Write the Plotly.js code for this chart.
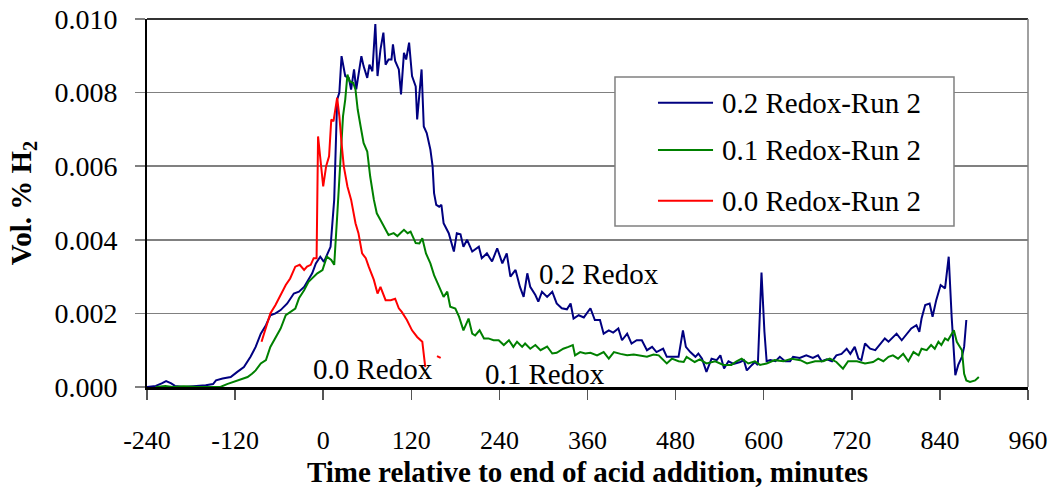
<!DOCTYPE html>
<html>
<head>
<meta charset="utf-8">
<script src="https://cdn.plot.ly/plotly-3.0.1.min.js"></script>
<style>
  html, body { margin: 0; padding: 0; background: #ffffff; }
  #chart { width: 1054px; height: 488px; }
</style>
</head>
<body>
<div id="chart"></div>
<script>
// Hydrogen concentration in the off-gas, three redox levels (Run 2)
const seriesNames = ['0.2 Redox-Run 2', '0.1 Redox-Run 2', '0.0 Redox-Run 2'];
const seriesColors = ['#000080', '#008000', '#ff0000'];
const curveLabels = ['0.2 Redox', '0.1 Redox', '0.0 Redox'];

// 0.2 Redox: time (min) and Vol. % H2
const redox02Time = [-240,-228,-220,-214,-207,-202,-190,-176,-160,-150,-146,-137,-126,-117,-108,-99,-92,-85,-78,-72,-65,-58,-49,-40,-33,-26,-20,-15,-10,-4,1,5,10,15,19,22,25,30,35,38,42,45,52,55,60,63,67,71,74,78,82,85,89,93,95,98,103,106,110,113,117,121,126,128,131,134,137,141,146,149,151,154,158,161,164,171,178,182,187,191,196,203,212,216,223,230,237,244,250,255,262,268,273,278,282,289,293,298,305,312,318,325,332,337,341,348,355,364,370,377,382,389,395,402,407,414,420,427,434,441,448,454,463,468,477,484,490,494,500,507,511,516,522,529,536,541,546,552,559,568,573,577,584,588,592,597,601,604,609,616,622,629,636,640,649,658,667,674,679,686,693,699,706,713,718,724,729,733,738,745,752,758,765,770,776,781,788,795,801,808,812,815,820,826,830,835,841,847,852,856,861,865,870,873,876];
const redox02H2 = [0,0.00003,0.0001,0.00016,0.0001,0.00003,0,0.00002,0.00005,0.00008,0.00018,0.00023,0.00027,0.00041,0.00054,0.00082,0.00109,0.00145,0.00168,0.00195,0.002,0.00209,0.00227,0.00254,0.00259,0.00272,0.00291,0.00309,0.00336,0.00354,0.0034,0.00359,0.00381,0.00509,0.00781,0.008,0.00899,0.00845,0.00839,0.00808,0.00863,0.00809,0.00899,0.00872,0.0084,0.00876,0.00858,0.00986,0.00845,0.00917,0.00963,0.00876,0.0089,0.0089,0.00931,0.00886,0.00863,0.00795,0.00908,0.0089,0.00936,0.00845,0.00817,0.00727,0.00791,0.00863,0.00708,0.0069,0.00645,0.006,0.00527,0.00495,0.0049,0.00495,0.00445,0.00418,0.00368,0.00418,0.00415,0.00381,0.004,0.00368,0.00381,0.0035,0.00363,0.00341,0.00377,0.00336,0.00363,0.003,0.00318,0.00272,0.00245,0.00309,0.00272,0.0025,0.00232,0.00259,0.00245,0.00259,0.00227,0.00214,0.00211,0.00227,0.00186,0.00195,0.00189,0.00214,0.00182,0.00182,0.00145,0.00154,0.00148,0.00159,0.00127,0.00145,0.00118,0.00127,0.00127,0.001,0.00109,0.00095,0.00104,0.00082,0.00082,0.00082,0.00154,0.00109,0.00095,0.00082,0.00091,0.00077,0.00041,0.00077,0.00073,0.00086,0.0005,0.0007,0.00063,0.00068,0.00073,0.00045,0.0006,0.00068,0.0006,0.00311,0.0015,0.0007,0.00073,0.0007,0.00082,0.0007,0.0007,0.00082,0.00079,0.00086,0.00079,0.00086,0.0007,0.00075,0.0007,0.00086,0.0009,0.00104,0.0009,0.00109,0.00077,0.00073,0.00118,0.00104,0.001,0.00114,0.00132,0.00123,0.00136,0.00145,0.00127,0.00145,0.00159,0.00168,0.0015,0.00186,0.00223,0.00227,0.00191,0.00236,0.00277,0.00268,0.00354,0.00191,0.00032,0.0006,0.00082,0.00109,0.00182];

// 0.1 Redox
const redox01Time = [-228,-215,-205,-190,-170,-140,-131,-117,-103,-97,-92,-85,-78,-72,-65,-58,-51,-45,-38,-33,-26,-20,-13,-8,-1,5,11,15,19,24,27,30,33,36,41,44,47,51,55,60,64,69,73,78,85,89,96,101,105,110,115,119,126,131,135,140,146,151,157,164,169,173,180,185,191,198,203,207,213,219,225,232,239,246,253,259,264,271,275,282,289,296,305,312,318,327,334,340,343,350,357,364,373,382,389,396,405,414,423,432,441,450,457,468,475,484,491,495,506,513,522,534,545,556,563,570,579,588,595,604,615,627,638,650,659,670,681,690,699,708,715,727,738,749,756,763,770,776,783,790,797,804,811,815,822,828,833,838,842,847,851,859,863,870,873,876,881,888,893];
const redox01H2 = [0,0.00003,0,0.00002,0,0,0.00008,0.00018,0.00027,0.00036,0.00045,0.00064,0.00073,0.00109,0.00136,0.00159,0.00195,0.00204,0.00213,0.00241,0.00263,0.00286,0.003,0.00309,0.00318,0.00354,0.00345,0.00332,0.00463,0.00645,0.00736,0.00781,0.00849,0.00831,0.00826,0.00808,0.00754,0.00708,0.00663,0.0064,0.00572,0.00509,0.00472,0.00454,0.00427,0.00413,0.00418,0.0041,0.00418,0.00427,0.00418,0.00422,0.00391,0.0039,0.00404,0.00363,0.00336,0.00304,0.00277,0.00245,0.00259,0.00218,0.00213,0.00191,0.00154,0.00186,0.00145,0.0014,0.00154,0.00132,0.00132,0.00127,0.00127,0.00114,0.00127,0.00109,0.00123,0.00109,0.00118,0.00104,0.00114,0.001,0.0011,0.00091,0.00093,0.00104,0.00109,0.00114,0.00086,0.00095,0.00091,0.00093,0.00086,0.00095,0.00077,0.00095,0.0009,0.00086,0.00088,0.00086,0.00082,0.00088,0.00086,0.00064,0.00077,0.0007,0.00068,0.00082,0.00068,0.00075,0.00064,0.0007,0.0006,0.0006,0.0007,0.00077,0.00064,0.0007,0.0006,0.00064,0.00073,0.0007,0.00077,0.00073,0.00064,0.0007,0.0007,0.00077,0.00068,0.0005,0.0007,0.0007,0.00064,0.00068,0.00077,0.0007,0.00082,0.00086,0.00077,0.0009,0.0007,0.00095,0.00086,0.00104,0.001,0.00114,0.00104,0.00123,0.00114,0.00132,0.00127,0.00154,0.00123,0.001,0.00036,0.00018,0.00014,0.00018,0.00027];

// 0.0 Redox (logger gap after ~139 min)
const redox00Time = [-84,-78,-72,-65,-58,-51,-45,-38,-32,-26,-22,-17,-13,-9,-7,-4,0,4,8,11,14,19,22,25,28,33,38,44,48,53,58,62,69,74,78,85,92,98,103,107,114,121,128,135,137,139,null,155,160];
const redox00H2 = [0.00123,0.00159,0.002,0.00223,0.0025,0.00277,0.00295,0.00327,0.00332,0.00318,0.00327,0.00332,0.0035,0.0035,0.00681,0.00618,0.00545,0.006,0.00627,0.00727,0.00722,0.00786,0.00736,0.00663,0.006,0.00545,0.00509,0.00445,0.00418,0.00363,0.0035,0.00327,0.00291,0.00254,0.00272,0.00236,0.00236,0.0024,0.00214,0.00204,0.00182,0.00154,0.00136,0.00123,0.00091,0.00054,null,0.00084,0.00079];

// Axis ticks
const xTickVals = [-240,-120,0,120,240,360,480,600,720,840,960];
const yTickVals = [0,0.002,0.004,0.006,0.008,0.010];

const FONT = 'Liberation Serif, Times New Roman, serif';

const times = [redox02Time, redox01Time, redox00Time];
const values = [redox02H2, redox01H2, redox00H2];

const traces = times.map((t, i) => ({
  x: t,
  y: values[i],
  type: 'scatter',
  mode: 'lines',
  name: seriesNames[i],
  line: { color: seriesColors[i], width: 2 },
  connectgaps: false,
  showlegend: false
}));

// Boxed key in the upper right of the plot area
const legendBox = { x0: 0.5312, x1: 0.916, y0: 0.4375, y1: 0.8424 };
const legendRows = [0.7726, 0.644, 0.5063];
const shapes = [
  { type: 'rect', xref: 'paper', yref: 'paper', x0: legendBox.x0, x1: legendBox.x1,
    y0: legendBox.y0, y1: legendBox.y1, line: { color: '#808080', width: 1.5 },
    fillcolor: '#ffffff', layer: 'above' },
  // plot-area frame: top and right edges
  { type: 'line', xref: 'paper', yref: 'paper', x0: 0, x1: 1, y0: 1, y1: 1,
    line: { color: '#333333', width: 2 } },
  { type: 'line', xref: 'paper', yref: 'paper', x0: 1, x1: 1, y0: 0, y1: 1,
    line: { color: '#808080', width: 1.5 } }
];
const annotations = [];
seriesNames.forEach((name, i) => {
  shapes.push({ type: 'line', xref: 'paper', yref: 'paper', x0: 0.580, x1: 0.6425,
    y0: legendRows[i], y1: legendRows[i], line: { color: seriesColors[i], width: 2 }, layer: 'above' });
  annotations.push({ xref: 'paper', yref: 'paper', x: 0.6504, y: legendRows[i],
    xanchor: 'left', yanchor: 'middle', showarrow: false, text: name,
    font: { family: FONT, size: 29, color: '#000000' } });
});

// Curve labels placed in data coordinates
const labelPos = [[375, 0.00307], [302, 0.00034], [68, 0.00048]];
curveLabels.forEach((txt, i) => {
  annotations.push({ x: labelPos[i][0], y: labelPos[i][1], xref: 'x', yref: 'y',
    showarrow: false, text: txt, xanchor: 'center', yanchor: 'middle',
    font: { family: FONT, size: 29, color: '#000000' } });
});

const layout = {
  width: 1054,
  height: 488,
  margin: { l: 147, r: 26, t: 19, b: 101 },
  paper_bgcolor: '#ffffff',
  plot_bgcolor: '#ffffff',
  showlegend: false,
  font: { family: FONT, color: '#000000' },
  xaxis: {
    range: [-240, 960],
    tickvals: xTickVals,
    ticktext: xTickVals.map(String),
    ticks: 'outside',
    ticklen: 10,
    tickwidth: 1.5,
    tickcolor: '#555555',
    ticklabelstandoff: 18,
    tickfont: { family: FONT, size: 26, color: '#000000' },
    showgrid: false,
    zeroline: false,
    showline: true,
    linecolor: '#000000',
    linewidth: 2.5,
    title: { text: '<b>Time relative to end of acid addition, minutes</b>',
             font: { family: FONT, size: 29, color: '#000000' }, standoff: 8 }
  },
  yaxis: {
    range: [0, 0.010],
    tickvals: yTickVals,
    tickformat: '.3f',
    ticks: 'outside',
    ticklen: 10,
    tickwidth: 1.5,
    tickcolor: '#808080',
    ticklabelstandoff: 12,
    tickfont: { family: FONT, size: 28, color: '#000000' },
    showgrid: true,
    gridcolor: '#808080',
    gridwidth: 1.5,
    zeroline: false,
    showline: true,
    linecolor: '#000000',
    linewidth: 2,
    title: { text: '<b>Vol. % H<sub>2</sub></b>',
             font: { family: FONT, size: 29, color: '#000000' }, standoff: 14 }
  },
  shapes: shapes,
  annotations: annotations
};

Plotly.newPlot('chart', traces, layout, { staticPlot: true, displayModeBar: false });
</script>
</body>
</html>
